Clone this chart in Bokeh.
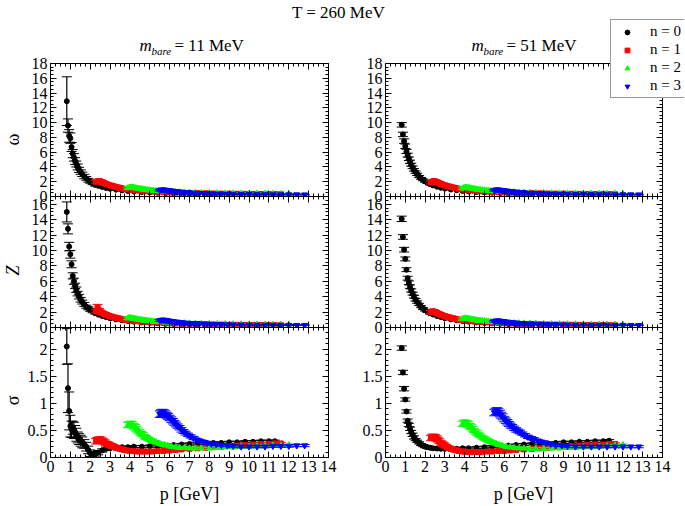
from bokeh.plotting import figure
from bokeh.models import (Range1d, LinearAxis, SingleIntervalTicker, ColumnDataSource,
                          Label, Legend, LegendItem, CustomLabelingPolicy)
from bokeh.layouts import column, row
from bokeh.embed import file_html
from bokeh.resources import INLINE

# ---------------- data ----------------
# momenta p [GeV] for the Matsubara modes n = 0..3
P0 = [0.82, 0.88, 0.94, 1.00, 1.06, 1.12, 1.18, 1.24, 1.30, 1.37, 1.44, 1.52, 1.60, 1.70, 1.80,
      1.90, 2.00, 2.12, 2.25, 2.40, 2.60, 2.80, 3.00, 3.30, 3.60, 3.90, 4.20, 4.60, 5.00, 5.40,
      5.80, 6.20, 6.60, 7.00, 7.40, 7.80, 8.20, 8.60, 9.00, 9.40, 9.80, 10.20, 10.60, 11.00, 11.30]
P1 = [2.30, 2.37, 2.44, 2.51, 2.58, 2.65, 2.72, 2.80, 2.88, 2.96, 3.04, 3.12, 3.20, 3.30, 3.40,
      3.50, 3.60, 3.72, 3.85, 4.00, 4.15, 4.30, 4.50, 4.70, 4.90, 5.15, 5.40, 5.70, 6.00, 6.30,
      6.60, 7.00, 7.40, 7.80, 8.20, 8.60, 9.00, 9.40, 9.80, 10.20, 10.60, 11.00, 11.30, 11.60]
P2 = [3.90, 3.97, 4.04, 4.11, 4.18, 4.25, 4.32, 4.40, 4.48, 4.56, 4.64, 4.72, 4.80, 4.90, 5.00,
      5.10, 5.20, 5.32, 5.45, 5.60, 5.75, 5.90, 6.10, 6.30, 6.50, 6.75, 7.00, 7.30, 7.60, 8.00,
      8.40, 8.80, 9.20, 9.60, 10.00, 10.40, 10.80, 11.20, 11.60, 12.00]
P3 = [5.50, 5.57, 5.64, 5.71, 5.78, 5.85, 5.92, 6.00, 6.08, 6.16, 6.24, 6.32, 6.40, 6.50, 6.60,
      6.70, 6.80, 6.92, 7.05, 7.20, 7.35, 7.50, 7.70, 7.90, 8.10, 8.35, 8.60, 8.90, 9.20, 9.60,
      10.00, 10.40, 10.80, 11.20, 11.60, 12.00, 12.40, 12.80]

# omega, m_bare = 11 MeV
W11_0 = [12.9, 9.6, 8.2, 7.9, 6.7, 5.8, 5.3, 4.8, 4.4, 4.0, 3.6, 3.3, 3.0, 2.7, 2.45,
         2.2, 2.0, 1.8, 1.6, 1.45, 1.3, 1.15, 1.05, 0.92, 0.82, 0.74, 0.67, 0.6, 0.55, 0.5,
         0.47, 0.44, 0.41, 0.39, 0.37, 0.35, 0.34, 0.33, 0.32, 0.31, 0.3, 0.29, 0.28, 0.28, 0.27]
W11_0e = [3.3, 0.9, 0.85, 0.7, 0.6, 0.55, 0.5, 0.45, 0.4, 0.4, 0.35, 0.3, 0.3, 0.3, 0.25,
          0.25, 0.2, 0.2, 0.2, 0.15, 0.12, 0.1, 0.1, 0.08, 0.08, 0.07, 0.06, 0.06, 0.05, 0.05,
          0.05, 0.05, 0.05, 0.05, 0.05, 0.05, 0.05, 0.05, 0.05, 0.05, 0.05, 0.05, 0.05, 0.05, 0.05]
W11_1 = [2.0, 2.05, 2.1, 2.05, 1.95, 1.87, 1.8, 1.7, 1.62, 1.54, 1.48, 1.42, 1.36, 1.3, 1.23,
         1.17, 1.1, 1.04, 0.98, 0.92, 0.88, 0.84, 0.79, 0.74, 0.7, 0.66, 0.62, 0.58, 0.55, 0.52,
         0.5, 0.47, 0.45, 0.43, 0.41, 0.39, 0.38, 0.37, 0.36, 0.35, 0.34, 0.33, 0.33, 0.32]
W11_2 = [1.15, 1.2, 1.24, 1.23, 1.19, 1.16, 1.12, 1.08, 1.04, 1.01, 0.97, 0.94, 0.91, 0.88, 0.85,
         0.82, 0.79, 0.77, 0.74, 0.71, 0.69, 0.67, 0.64, 0.61, 0.59, 0.57, 0.55, 0.52, 0.5, 0.48,
         0.46, 0.44, 0.43, 0.42, 0.41, 0.4, 0.39, 0.38, 0.37, 0.36]
W11_3 = [0.85, 0.9, 0.92, 0.91, 0.88, 0.86, 0.83, 0.8, 0.77, 0.74, 0.71, 0.68, 0.66, 0.63, 0.6,
         0.57, 0.55, 0.53, 0.51, 0.48, 0.46, 0.44, 0.42, 0.4, 0.38, 0.36, 0.35, 0.33, 0.32, 0.31,
         0.3, 0.29, 0.28, 0.27, 0.27, 0.26, 0.26, 0.25]
# omega, m_bare = 51 MeV
W51_0 = [9.7, 8.4, 7.5, 6.8, 6.1, 5.6, 5.1, 4.7, 4.3, 3.95, 3.6, 3.3, 3.0, 2.7, 2.45,
         2.25, 2.05, 1.85, 1.68, 1.5, 1.33, 1.18, 1.07, 0.94, 0.84, 0.75, 0.68, 0.61, 0.55, 0.51,
         0.47, 0.44, 0.41, 0.39, 0.37, 0.35, 0.34, 0.33, 0.32, 0.31, 0.3, 0.29, 0.28, 0.28, 0.27]
W51_0e = [0.3, 0.3, 0.3, 0.3, 0.28, 0.26, 0.24, 0.22, 0.2, 0.18, 0.17, 0.16, 0.15, 0.14, 0.13,
          0.12, 0.11, 0.1, 0.09, 0.08, 0.07, 0.07, 0.06, 0.06, 0.05, 0.05, 0.05, 0.05, 0.05, 0.05,
          0.05, 0.05, 0.05, 0.05, 0.05, 0.05, 0.05, 0.05, 0.05, 0.05, 0.05, 0.05, 0.05, 0.05, 0.05]
W51_1 = [1.9, 2.0, 2.1, 2.05, 1.95, 1.87, 1.8, 1.7, 1.62, 1.54, 1.48, 1.42, 1.36, 1.3, 1.23,
         1.17, 1.1, 1.04, 0.98, 0.92, 0.88, 0.84, 0.79, 0.74, 0.7, 0.66, 0.62, 0.58, 0.55, 0.52,
         0.5, 0.47, 0.45, 0.43, 0.41, 0.39, 0.38, 0.37, 0.36, 0.35, 0.34, 0.33, 0.33, 0.32]
W51_2 = [1.1, 1.16, 1.21, 1.2, 1.17, 1.14, 1.1, 1.06, 1.02, 0.99, 0.95, 0.92, 0.89, 0.86, 0.83,
         0.8, 0.78, 0.76, 0.73, 0.7, 0.68, 0.66, 0.63, 0.61, 0.59, 0.57, 0.55, 0.52, 0.5, 0.48,
         0.46, 0.44, 0.43, 0.42, 0.41, 0.4, 0.39, 0.38, 0.37, 0.36]
W51_3 = [0.85, 0.9, 0.92, 0.91, 0.88, 0.86, 0.83, 0.8, 0.77, 0.74, 0.71, 0.68, 0.66, 0.63, 0.6,
         0.57, 0.55, 0.53, 0.51, 0.48, 0.46, 0.44, 0.42, 0.4, 0.38, 0.36, 0.35, 0.33, 0.32, 0.31,
         0.3, 0.29, 0.28, 0.27, 0.27, 0.26, 0.26, 0.25]
# error sizes of the omega and Z bands, modes n = 1..3
E1 = [0.2, 0.2, 0.2, 0.19, 0.18, 0.17, 0.16, 0.15, 0.14, 0.13, 0.12, 0.12, 0.11, 0.1, 0.1,
      0.09, 0.09, 0.08, 0.08, 0.07, 0.07, 0.06, 0.06, 0.06, 0.05, 0.05, 0.05, 0.05, 0.05, 0.05,
      0.05, 0.05, 0.05, 0.05, 0.05, 0.05, 0.05, 0.05, 0.05, 0.05, 0.05, 0.05, 0.05, 0.05]
E2 = [0.15, 0.15, 0.14, 0.14, 0.13, 0.12, 0.12, 0.11, 0.1, 0.1, 0.09, 0.09, 0.08, 0.08, 0.07,
      0.07, 0.06, 0.06, 0.06, 0.05, 0.05, 0.05, 0.05, 0.05, 0.05, 0.05, 0.05, 0.05, 0.05, 0.05,
      0.05, 0.05, 0.05, 0.05, 0.05, 0.05, 0.05, 0.05, 0.05, 0.05]
E3 = [0.12, 0.12, 0.12, 0.11, 0.11, 0.1, 0.1, 0.09, 0.09, 0.08, 0.08, 0.07, 0.07, 0.06, 0.06,
      0.06, 0.05, 0.05, 0.05, 0.05, 0.05, 0.05, 0.05, 0.05, 0.05, 0.05, 0.05, 0.05, 0.05, 0.05,
      0.05, 0.05, 0.05, 0.05, 0.05, 0.05, 0.05, 0.05]

# Z, m_bare = 11 MeV
Z11_0 = [15.0, 12.8, 10.5, 9.5, 8.2, 6.7, 6.0, 5.4, 4.9, 4.4, 4.0, 3.6, 3.3, 3.0, 2.7,
         2.5, 2.3, 2.1, 1.9, 1.7, 1.5, 1.35, 1.2, 1.05, 0.93, 0.83, 0.75, 0.66, 0.6, 0.55,
         0.5, 0.46, 0.43, 0.4, 0.38, 0.36, 0.34, 0.33, 0.31, 0.3, 0.29, 0.28, 0.27, 0.26, 0.26]
Z11_0e = [1.3, 0.65, 0.55, 0.5, 0.45, 0.4, 0.4, 0.35, 0.35, 0.3, 0.3, 0.3, 0.25, 0.25, 0.2,
          0.2, 0.2, 0.18, 0.16, 0.14, 0.12, 0.1, 0.1, 0.08, 0.08, 0.07, 0.06, 0.06, 0.05, 0.05,
          0.05, 0.05, 0.05, 0.05, 0.05, 0.05, 0.05, 0.05, 0.05, 0.05, 0.05, 0.05, 0.05, 0.05, 0.05]
Z11_1 = [2.1, 2.6, 2.25, 2.05, 1.92, 1.83, 1.75, 1.66, 1.58, 1.5, 1.44, 1.38, 1.32, 1.26, 1.2,
         1.14, 1.08, 1.02, 0.97, 0.91, 0.87, 0.83, 0.78, 0.74, 0.7, 0.66, 0.62, 0.58, 0.55, 0.52,
         0.49, 0.46, 0.44, 0.42, 0.4, 0.38, 0.36, 0.35, 0.34, 0.33, 0.32, 0.31, 0.31, 0.3]
Z11_1e = [0.2, 0.4, 0.2, 0.19, 0.18, 0.17, 0.16, 0.15, 0.14, 0.13, 0.12, 0.12, 0.11, 0.1, 0.1,
          0.09, 0.09, 0.08, 0.08, 0.07, 0.07, 0.06, 0.06, 0.06, 0.05, 0.05, 0.05, 0.05, 0.05, 0.05,
          0.05, 0.05, 0.05, 0.05, 0.05, 0.05, 0.05, 0.05, 0.05, 0.05, 0.05, 0.05, 0.05, 0.05]
Z11_2 = [1.2, 1.25, 1.23, 1.2, 1.16, 1.12, 1.09, 1.05, 1.01, 0.98, 0.95, 0.92, 0.9, 0.87, 0.84,
         0.81, 0.78, 0.76, 0.73, 0.7, 0.68, 0.66, 0.63, 0.6, 0.58, 0.56, 0.54, 0.52, 0.5, 0.48,
         0.46, 0.45, 0.44, 0.43, 0.42, 0.41, 0.4, 0.39, 0.38, 0.38]
Z11_3 = [0.9, 0.95, 0.99, 0.98, 0.95, 0.92, 0.89, 0.85, 0.82, 0.78, 0.75, 0.72, 0.7, 0.67, 0.64,
         0.61, 0.59, 0.57, 0.55, 0.53, 0.51, 0.49, 0.47, 0.45, 0.43, 0.41, 0.4, 0.38, 0.37, 0.35,
         0.34, 0.33, 0.32, 0.31, 0.31, 0.3, 0.3, 0.3]
# Z, m_bare = 51 MeV
Z51_0 = [14.1, 11.75, 10.1, 8.9, 7.5, 6.4, 5.8, 5.3, 4.8, 4.4, 4.0, 3.6, 3.3, 3.0, 2.7,
         2.45, 2.25, 2.05, 1.85, 1.68, 1.5, 1.35, 1.2, 1.05, 0.93, 0.83, 0.75, 0.66, 0.6, 0.55,
         0.5, 0.46, 0.43, 0.4, 0.38, 0.36, 0.34, 0.33, 0.31, 0.3, 0.29, 0.28, 0.27, 0.26, 0.26]
Z51_0e = [0.35, 0.3, 0.3, 0.25, 0.25, 0.25, 0.24, 0.22, 0.2, 0.18, 0.17, 0.16, 0.15, 0.14, 0.13,
          0.12, 0.11, 0.1, 0.09, 0.08, 0.07, 0.07, 0.06, 0.06, 0.05, 0.05, 0.05, 0.05, 0.05, 0.05,
          0.05, 0.05, 0.05, 0.05, 0.05, 0.05, 0.05, 0.05, 0.05, 0.05, 0.05, 0.05, 0.05, 0.05, 0.05]
Z51_1 = [2.0, 2.1, 2.08, 2.0, 1.9, 1.82, 1.75, 1.66, 1.58, 1.5, 1.44, 1.38, 1.32, 1.26, 1.2,
         1.14, 1.08, 1.02, 0.97, 0.91, 0.87, 0.83, 0.78, 0.74, 0.7, 0.66, 0.62, 0.58, 0.55, 0.52,
         0.49, 0.46, 0.44, 0.42, 0.4, 0.38, 0.36, 0.35, 0.34, 0.33, 0.32, 0.31, 0.31, 0.3]
Z51_2 = [1.1, 1.17, 1.2, 1.18, 1.14, 1.1, 1.07, 1.03, 0.99, 0.96, 0.93, 0.9, 0.88, 0.85, 0.82,
         0.8, 0.77, 0.75, 0.72, 0.69, 0.67, 0.65, 0.62, 0.6, 0.58, 0.56, 0.54, 0.52, 0.5, 0.48,
         0.46, 0.45, 0.44, 0.43, 0.42, 0.41, 0.4, 0.39, 0.38, 0.38]
Z51_3 = [0.8, 0.85, 0.88, 0.87, 0.85, 0.83, 0.8, 0.77, 0.74, 0.71, 0.68, 0.66, 0.64, 0.61, 0.59,
         0.57, 0.55, 0.53, 0.51, 0.49, 0.47, 0.46, 0.44, 0.42, 0.41, 0.39, 0.38, 0.37, 0.36, 0.34,
         0.33, 0.32, 0.31, 0.31, 0.3, 0.3, 0.3, 0.29]

# sigma, m_bare = 11 MeV
S11_0 = [2.05, 1.28, 0.86, 0.58, 0.52, 0.55, 0.5, 0.47, 0.42, 0.37, 0.34, 0.31, 0.28, 0.25, 0.2,
         0.14, 0.08, 0.05, 0.06, 0.09, 0.13, 0.16, 0.17, 0.18, 0.19, 0.19, 0.2, 0.2, 0.21, 0.21,
         0.22, 0.23, 0.24, 0.25, 0.25, 0.26, 0.27, 0.27, 0.28, 0.28, 0.29, 0.29, 0.3, 0.3, 0.3]
S11_0e = [0.33, 0.45, 0.35, 0.2, 0.15, 0.12, 0.15, 0.12, 0.12, 0.1, 0.1, 0.1, 0.1, 0.08, 0.08,
          0.07, 0.06, 0.05, 0.05, 0.04, 0.03, 0.03, 0.02, 0.02, 0.02, 0.02, 0.02, 0.02, 0.02, 0.02,
          0.02, 0.02, 0.02, 0.02, 0.02, 0.02, 0.02, 0.02, 0.02, 0.02, 0.02, 0.02, 0.02, 0.02, 0.02]
S11_1 = [0.3, 0.32, 0.33, 0.33, 0.31, 0.3, 0.28, 0.26, 0.25, 0.23, 0.22, 0.21, 0.2, 0.18, 0.17,
         0.16, 0.15, 0.14, 0.13, 0.12, 0.12, 0.11, 0.11, 0.11, 0.11, 0.11, 0.12, 0.12, 0.13, 0.14,
         0.15, 0.16, 0.17, 0.18, 0.19, 0.2, 0.21, 0.22, 0.23, 0.24, 0.25, 0.25, 0.26, 0.26]
S11_2 = [0.6, 0.61, 0.62, 0.61, 0.58, 0.56, 0.53, 0.5, 0.47, 0.44, 0.42, 0.39, 0.37, 0.35, 0.33,
         0.31, 0.29, 0.28, 0.26, 0.24, 0.23, 0.22, 0.2, 0.19, 0.18, 0.18, 0.17, 0.17, 0.17, 0.17,
         0.18, 0.19, 0.19, 0.2, 0.2, 0.21, 0.21, 0.22, 0.22, 0.23]
S11_3 = [0.8, 0.82, 0.83, 0.82, 0.8, 0.78, 0.76, 0.73, 0.7, 0.67, 0.64, 0.61, 0.58, 0.55, 0.51,
         0.48, 0.45, 0.42, 0.39, 0.36, 0.33, 0.31, 0.29, 0.27, 0.25, 0.24, 0.23, 0.22, 0.21, 0.2,
         0.2, 0.2, 0.2, 0.21, 0.21, 0.21, 0.22, 0.22]
# sigma, m_bare = 51 MeV
S51_0 = [2.02, 1.57, 1.27, 1.07, 0.85, 0.68, 0.6, 0.53, 0.47, 0.42, 0.37, 0.33, 0.3, 0.27, 0.24,
         0.22, 0.2, 0.19, 0.18, 0.17, 0.165, 0.16, 0.16, 0.16, 0.16, 0.17, 0.17, 0.18, 0.19, 0.2,
         0.21, 0.22, 0.23, 0.24, 0.25, 0.25, 0.26, 0.27, 0.28, 0.28, 0.29, 0.29, 0.3, 0.3, 0.31]
S51_0e = [0.04, 0.04, 0.04, 0.03, 0.03, 0.03, 0.03, 0.03, 0.03, 0.03, 0.03, 0.02, 0.02, 0.02, 0.02,
          0.02, 0.02, 0.02, 0.02, 0.02, 0.02, 0.02, 0.02, 0.02, 0.02, 0.02, 0.02, 0.02, 0.02, 0.02,
          0.02, 0.02, 0.02, 0.02, 0.02, 0.02, 0.02, 0.02, 0.02, 0.02, 0.02, 0.02, 0.02, 0.02, 0.02]
S51_1 = [0.36, 0.38, 0.38, 0.37, 0.35, 0.33, 0.3, 0.27, 0.25, 0.23, 0.21, 0.19, 0.18, 0.16, 0.15,
         0.14, 0.13, 0.12, 0.11, 0.11, 0.1, 0.1, 0.1, 0.1, 0.1, 0.11, 0.11, 0.12, 0.12, 0.13,
         0.14, 0.15, 0.16, 0.17, 0.18, 0.19, 0.2, 0.21, 0.22, 0.23, 0.24, 0.24, 0.25, 0.25]
S51_2 = [0.62, 0.64, 0.64, 0.63, 0.61, 0.58, 0.56, 0.53, 0.5, 0.47, 0.45, 0.42, 0.4, 0.37, 0.35,
         0.33, 0.31, 0.29, 0.27, 0.25, 0.23, 0.22, 0.2, 0.19, 0.18, 0.17, 0.17, 0.16, 0.16, 0.16,
         0.17, 0.17, 0.18, 0.18, 0.19, 0.19, 0.2, 0.21, 0.22, 0.23]
S51_3 = [0.83, 0.85, 0.86, 0.84, 0.81, 0.78, 0.75, 0.71, 0.68, 0.65, 0.62, 0.59, 0.57, 0.54, 0.51,
         0.49, 0.47, 0.44, 0.41, 0.38, 0.36, 0.34, 0.31, 0.29, 0.27, 0.25, 0.23, 0.22, 0.21, 0.2,
         0.2, 0.2, 0.2, 0.2, 0.2, 0.2, 0.2, 0.2]
# sigma error sizes, modes n = 1..3
SE1 = [0.05, 0.05, 0.05, 0.05, 0.05, 0.045, 0.045, 0.04, 0.04, 0.04, 0.035, 0.035, 0.03, 0.03, 0.03,
       0.03, 0.025, 0.025, 0.025, 0.02, 0.02, 0.02, 0.02, 0.02, 0.02, 0.02, 0.02, 0.02, 0.02, 0.02,
       0.02, 0.02, 0.02, 0.02, 0.02, 0.02, 0.02, 0.02, 0.02, 0.02, 0.02, 0.02, 0.02, 0.02]
SE2 = [0.05, 0.05, 0.05, 0.05, 0.05, 0.05, 0.045, 0.045, 0.04, 0.04, 0.04, 0.035, 0.035, 0.03, 0.03,
       0.03, 0.025, 0.025, 0.025, 0.02, 0.02, 0.02, 0.02, 0.02, 0.02, 0.02, 0.02, 0.02, 0.02, 0.02,
       0.02, 0.02, 0.02, 0.02, 0.02, 0.02, 0.02, 0.02, 0.02, 0.02]
SE3 = [0.06, 0.06, 0.06, 0.06, 0.06, 0.055, 0.055, 0.05, 0.05, 0.05, 0.045, 0.045, 0.04, 0.04, 0.04,
       0.035, 0.035, 0.03, 0.03, 0.03, 0.025, 0.025, 0.025, 0.02, 0.02, 0.02, 0.02, 0.02, 0.02, 0.02,
       0.02, 0.02, 0.02, 0.02, 0.02, 0.02, 0.02, 0.02]

TITLE = "T = 260 MeV"
MASSES = ["11", "51"]
LEGEND_LABELS = ["n = 0", "n = 1", "n = 2", "n = 3"]
X_LABEL = "p [GeV]"
Y_LABELS = ["ω", "Z", "σ"]

# ---------------- styling / layout ----------------
FONT = "Liberation Serif"
COLORS = ["#000000", "#ff0000", "#00ff00", "#0000ff"]
MARKERS = ["circle", "square", "triangle", "inverted_triangle"]
MSIZES = [5, 5, 6, 6]
PSETS = [P0, P1, P2, P3]
W_PAGE, H_PAGE = 684, 505

# (ymin, ymax, major interval, minor count, frame height, top border, bottom border, overlap)
ROWS = [(0, 18, 2, 4, 133, 9, 8, 9),
        (0, 17, 2, 4, 131, 8, 8, 16),
        (0, 2.4, 0.5, 5, 130, 8, 24, 16)]
YLAB_POS = [76, 74, 73]   # label centre, from the top of each row

DATA = {
    (0, 0): ([W11_0, W11_1, W11_2, W11_3], [W11_0e, E1, E2, E3]),
    (0, 1): ([W51_0, W51_1, W51_2, W51_3], [W51_0e, E1, E2, E3]),
    (1, 0): ([Z11_0, Z11_1, Z11_2, Z11_3], [Z11_0e, Z11_1e, E2, E3]),
    (1, 1): ([Z51_0, Z51_1, Z51_2, Z51_3], [Z51_0e, E1, E2, E3]),
    (2, 0): ([S11_0, S11_1, S11_2, S11_3], [S11_0e, SE1, SE2, SE3]),
    (2, 1): ([S51_0, S51_1, S51_2, S51_3], [S51_0e, SE1, SE2, SE3]),
}


def make_axis(interval, nminor, show):
    ax = LinearAxis(ticker=SingleIntervalTicker(interval=interval, num_minor_ticks=nminor))
    ax.major_tick_in = 6
    ax.major_tick_out = 0
    ax.minor_tick_in = 3
    ax.minor_tick_out = 0
    ax.axis_line_color = "black"
    ax.major_tick_line_color = "black"
    ax.minor_tick_line_color = "black"
    ax.major_label_text_font = FONT
    ax.major_label_text_color = "black"
    if show:
        ax.major_label_text_font_size = "16px"
        ax.major_label_standoff = 3
    else:
        ax.major_label_text_font_size = "0px"
        ax.major_label_standoff = 0
        ax.major_label_policy = CustomLabelingPolicy(code="return []")
    return ax


def text_fig(w, h):
    f = figure(frame_width=w, frame_height=h, x_range=Range1d(0, w), y_range=Range1d(h, 0),
               min_border=0, x_axis_location=None, y_axis_location=None,
               toolbar_location=None, tools="", output_backend="svg")
    f.grid.visible = False
    f.outline_line_color = None
    f.background_fill_alpha = 0
    f.border_fill_alpha = 0
    return f


def txt(f, x, y, text, size, style="normal", align="center", angle=0.0):
    f.add_layout(Label(x=x, y=y, text=text, text_font=FONT, text_font_size=size,
                       text_font_style=style, text_align=align, text_baseline="middle",
                       text_color="black", angle=angle))


rows = []
for r, (ymin, ymax, yint, ynm, fh, bt, bb, ovl) in enumerate(ROWS):
    children = []
    yl = text_fig(24, bt + fh + bb)
    txt(yl, 12, YLAB_POS[r], Y_LABELS[r], "18px", "italic" if r == 1 else "normal", "center", 1.5708)
    children.append(yl)
    for c in range(2):
        left = c == 0
        p = figure(frame_width=278 if left else 277, frame_height=fh,
                   x_range=Range1d(0, 14), y_range=Range1d(ymin, ymax),
                   min_border_left=26 if left else 47, min_border_right=10 if left else 22,
                   min_border_top=bt, min_border_bottom=bb,
                   x_axis_location=None, y_axis_location=None,
                   toolbar_location=None, tools="", output_backend="svg")
        p.grid.visible = False
        p.outline_line_color = "black"
        p.background_fill_color = "white"
        p.border_fill_alpha = 0
        p.add_layout(make_axis(1, 4, r == 2), "below")
        p.add_layout(make_axis(1, 4, False), "above")
        p.add_layout(make_axis(yint, ynm, True), "left")
        p.add_layout(make_axis(yint, ynm, False), "right")

        vals, errs = DATA[(r, c)]
        for k in range(4):
            col = COLORS[k]
            lo = [v - e for v, e in zip(vals[k], errs[k])]
            hi = [v + e for v, e in zip(vals[k], errs[k])]
            src = ColumnDataSource(dict(x=PSETS[k], y=vals[k], lo=lo, hi=hi))
            p.segment(x0="x", y0="lo", x1="x", y1="hi", source=src, line_color=col, line_width=1.2)
            p.scatter(x="x", y="lo", source=src, marker="dash", size=10, line_color=col, line_width=1)
            p.scatter(x="x", y="hi", source=src, marker="dash", size=10, line_color=col, line_width=1)
            p.scatter(x="x", y="y", source=src, marker=MARKERS[k], size=MSIZES[k],
                      fill_color=col, line_color=col)
        children.append(p)
    rows.append(row(*children, margin=(-ovl, 0, 0, 0)))

header = text_fig(W_PAGE, 63)
txt(header, 338, 12, TITLE, "17px")
for cx, m in zip([189, 521], MASSES):
    txt(header, cx - 50, 45, "m", "17px", "italic", "left")
    txt(header, cx - 38, 50, "bare", "11px", "italic", "left")
    txt(header, cx - 15, 45, "= %s MeV" % m, "17px", "normal", "left")

footer = text_fig(W_PAGE, 24)
for cx in [189, 523]:
    txt(footer, cx, 12, X_LABEL, "18px")

# transparent full-page overlay carrying the legend (drawn on top of the top-right panel).
# The legend's series live on an off-screen range of the overlay, so only their legend glyphs show.
ov = text_fig(W_PAGE, H_PAGE)
ov.extra_x_ranges = {"series": Range1d(100, 200)}
ov.extra_y_ranges = {"series": Range1d(100, 200)}
lrs = []
for k, vals in enumerate(DATA[(0, 1)][0]):
    lrs.append(ov.scatter(x=PSETS[k], y=vals, marker=MARKERS[k], size=MSIZES[k],
                          fill_color=COLORS[k], line_color=COLORS[k],
                          x_range_name="series", y_range_name="series"))
leg = Legend(items=[LegendItem(label=LEGEND_LABELS[k], renderers=[lrs[k]], index=0) for k in range(4)],
             location=(610, H_PAGE - 98), orientation="vertical",
             border_line_color="#333333", border_line_width=1,
             background_fill_color="white", background_fill_alpha=1,
             padding=3, spacing=1, margin=0, glyph_width=26, glyph_height=12,
             label_height=16, label_standoff=10, label_text_font=FONT,
             label_text_font_size="15px", label_text_color="black")
ov.add_layout(leg)
ov.margin = (-H_PAGE, 0, 0, 0)

layout = column(header, rows[0], rows[1], rows[2], footer, ov)

open("out.html", "w").write(file_html(layout, INLINE))
